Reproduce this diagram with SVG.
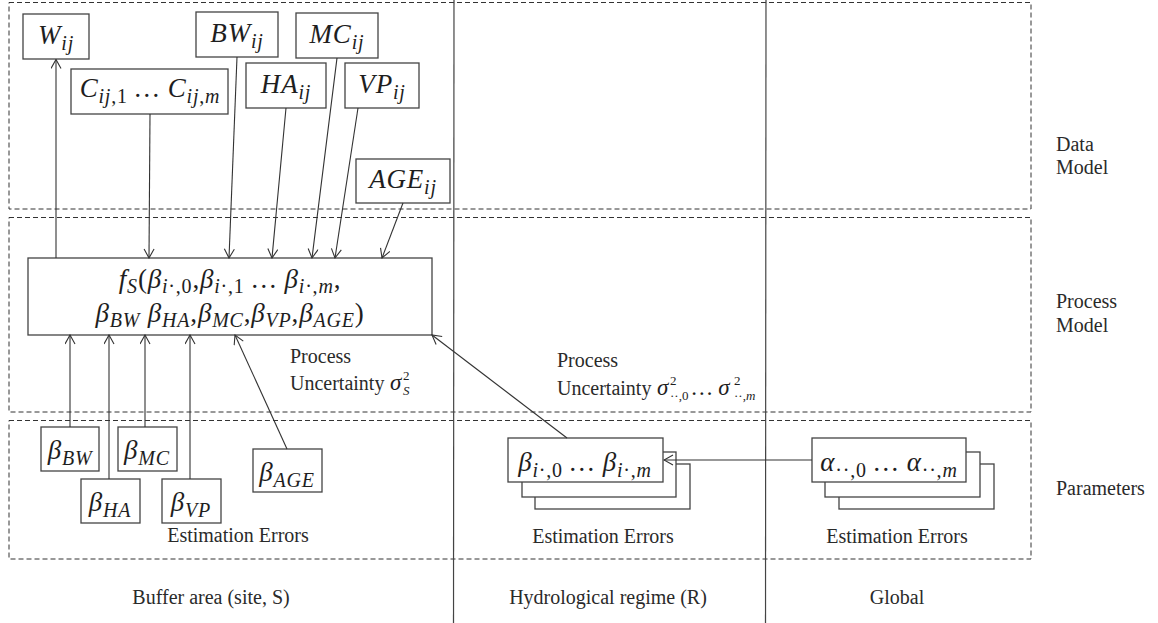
<svg xmlns="http://www.w3.org/2000/svg" width="1158" height="623" viewBox="0 0 1158 623">
  <style>
    .lbl { font-family: "Liberation Serif", "Times New Roman", serif; font-size: 20px; fill: #2a2a2a; }
    .m { font-family: "Liberation Serif", "Times New Roman", serif; font-style: italic; font-size: 27px; fill: #1e1e1e; letter-spacing: 0.8px; }
    .s { font-size: 20px; }
    .u { font-style: normal; }
    .sup { font-family: "Liberation Serif", "Times New Roman", serif; font-size: 13px; fill: #1e1e1e; }
    .sig { font-family: "Liberation Serif", "Times New Roman", serif; font-style: italic; font-size: 23px; fill: #1e1e1e; }
    .zone { fill: none; stroke: #333; stroke-width: 1; stroke-dasharray: 5 3; }
    .col { stroke: #444; stroke-width: 1.2; }
    .box { fill: #fff; stroke: #444; stroke-width: 1.3; }
    .con { fill: none; stroke: #333; stroke-width: 1.1; marker-end: url(#arr); }
  </style>
  <defs>
    <marker id="arr" markerWidth="11" markerHeight="12" refX="10" refY="5.5" orient="auto" markerUnits="userSpaceOnUse">
      <path d="M1,0.5 L10,5.5 L1,10.5" fill="none" stroke="#333" stroke-width="1.1"/>
    </marker>
  </defs>
  <rect width="1158" height="623" fill="#fff"/>

  <!-- model levels -->
  <g id="levels">
    <rect class="zone" x="9" y="2.5" width="1022" height="206.5"/>
    <rect class="zone" x="9" y="217.5" width="1022" height="194.5"/>
    <rect class="zone" x="9" y="420.5" width="1022" height="138.5"/>
  </g>

  <!-- scale columns -->
  <g id="columns">
    <line class="col" x1="454" y1="0" x2="453.5" y2="623"/>
    <line class="col" x1="766" y1="0" x2="765.5" y2="623"/>
  </g>

  <!-- data model -->
  <g id="node-W">
    <rect class="box" x="23" y="14" width="66" height="45"/>
    <text class="m" x="56" y="44" text-anchor="middle">W<tspan class="s" dy="6">ij</tspan></text>
  </g>
  <g id="node-C">
    <rect class="box" x="71" y="69" width="157" height="45"/>
    <text class="m" x="150" y="97" text-anchor="middle">C<tspan class="s" dy="6">ij<tspan class="u">,1</tspan></tspan><tspan dy="-6"> … C</tspan><tspan class="s" dy="6">ij<tspan class="u">,</tspan>m</tspan></text>
  </g>
  <g id="node-BW">
    <rect class="box" x="196" y="12" width="82" height="45"/>
    <text class="m" x="237" y="42" text-anchor="middle">BW<tspan class="s" dy="6">ij</tspan></text>
  </g>
  <g id="node-MC">
    <rect class="box" x="296" y="13" width="82" height="45"/>
    <text class="m" x="337" y="43" text-anchor="middle">MC<tspan class="s" dy="6">ij</tspan></text>
  </g>
  <g id="node-HA">
    <rect class="box" x="246" y="63" width="80" height="45"/>
    <text class="m" x="286" y="93" text-anchor="middle">HA<tspan class="s" dy="6">ij</tspan></text>
  </g>
  <g id="node-VP">
    <rect class="box" x="345" y="63" width="74" height="45"/>
    <text class="m" x="382" y="93" text-anchor="middle">VP<tspan class="s" dy="6">ij</tspan></text>
  </g>
  <g id="node-AGE">
    <rect class="box" x="356" y="159" width="94" height="44"/>
    <text class="m" x="403" y="188" text-anchor="middle">AGE<tspan class="s" dy="6">ij</tspan></text>
  </g>

  <!-- process model -->
  <g id="node-fS">
    <rect class="box" x="28" y="258" width="404" height="77"/>
    <text class="m" x="230" y="288" text-anchor="middle">f<tspan class="s" dy="5">S</tspan><tspan class="u" dy="-5">(</tspan>β<tspan class="s" dy="5">i<tspan class="u">·,0</tspan></tspan><tspan class="u" dy="-5">,</tspan>β<tspan class="s" dy="5">i<tspan class="u">·,1</tspan></tspan><tspan dy="-5"> … β</tspan><tspan class="s" dy="5">i<tspan class="u">·,</tspan>m</tspan><tspan class="u" dy="-5">,</tspan></text>
    <text class="m" x="230" y="322" text-anchor="middle">β<tspan class="s" dy="5">BW</tspan><tspan dy="-5"> β</tspan><tspan class="s" dy="5">HA</tspan><tspan class="u" dy="-5">,</tspan>β<tspan class="s" dy="5">MC</tspan><tspan class="u" dy="-5">,</tspan>β<tspan class="s" dy="5">VP</tspan><tspan class="u" dy="-5">,</tspan>β<tspan class="s" dy="5">AGE</tspan><tspan class="u" dy="-5">)</tspan></text>
  </g>
  <g id="label-uncertainty-S">
    <text class="lbl" x="290" y="363">Process</text>
    <text class="lbl" x="290" y="390">Uncertainty</text>
    <text class="sig" x="390" y="390">σ</text>
    <text class="sup" x="403" y="380">2</text>
    <text class="sup" x="403" y="395" font-style="italic">S</text>
  </g>
  <g id="label-uncertainty-R">
    <text class="lbl" x="557" y="367">Process</text>
    <text class="lbl" x="557" y="395">Uncertainty</text>
    <text class="sig" x="657" y="395">σ</text>
    <text class="sup" x="670" y="385">2</text>
    <text class="sup" x="670" y="400">··,0</text>
    <text class="sig" x="692" y="395">… σ</text>
    <text class="sup" x="734" y="385">2</text>
    <text class="sup" x="734" y="400">··,<tspan font-style="italic">m</tspan></text>
  </g>

  <!-- parameters: site level -->
  <g id="node-bBW">
    <rect class="box" x="41" y="427" width="58" height="44"/>
    <text class="m" x="70" y="459" text-anchor="middle">β<tspan class="s" dy="6">BW</tspan></text>
  </g>
  <g id="node-bMC">
    <rect class="box" x="118" y="427" width="59" height="44"/>
    <text class="m" x="147" y="459" text-anchor="middle">β<tspan class="s" dy="6">MC</tspan></text>
  </g>
  <g id="node-bHA">
    <rect class="box" x="81" y="479" width="59" height="44"/>
    <text class="m" x="110" y="511" text-anchor="middle">β<tspan class="s" dy="6">HA</tspan></text>
  </g>
  <g id="node-bVP">
    <rect class="box" x="162" y="479" width="59" height="44"/>
    <text class="m" x="191" y="511" text-anchor="middle">β<tspan class="s" dy="6">VP</tspan></text>
  </g>
  <g id="node-bAGE">
    <rect class="box" x="253" y="449" width="69" height="43"/>
    <text class="m" x="287" y="481" text-anchor="middle">β<tspan class="s" dy="6">AGE</tspan></text>
  </g>

  <!-- parameters: regime level (stacked) -->
  <g id="node-beta-R">
    <rect class="box" x="535" y="464" width="155" height="45"/>
    <rect class="box" x="522" y="452" width="154" height="45"/>
    <rect class="box" x="508" y="438" width="155" height="44"/>
    <text class="m" x="585" y="471" text-anchor="middle">β<tspan class="s" dy="6">i<tspan class="u">·,0</tspan></tspan><tspan dy="-6">  … β</tspan><tspan class="s" dy="6">i<tspan class="u">·,</tspan>m</tspan></text>
  </g>

  <!-- parameters: global level (stacked) -->
  <g id="node-alpha">
    <rect class="box" x="839" y="464" width="155" height="45"/>
    <rect class="box" x="825" y="452" width="155" height="45"/>
    <rect class="box" x="812" y="438" width="154" height="44"/>
    <text class="m" x="889" y="471" text-anchor="middle">α<tspan class="s u" dy="6">··,0</tspan><tspan dy="-6">  … α</tspan><tspan class="s" dy="6"><tspan class="u">··,</tspan>m</tspan></text>
  </g>

  <!-- captions -->
  <g id="captions">
    <text class="lbl" x="238" y="542" text-anchor="middle">Estimation Errors</text>
    <text class="lbl" x="603" y="543" text-anchor="middle">Estimation Errors</text>
    <text class="lbl" x="897" y="543" text-anchor="middle">Estimation Errors</text>
    <text class="lbl" x="211" y="604" text-anchor="middle">Buffer area (site, S)</text>
    <text class="lbl" x="608" y="604" text-anchor="middle">Hydrological regime (R)</text>
    <text class="lbl" x="897" y="604" text-anchor="middle">Global</text>
    <text class="lbl" x="1056" y="151">Data</text>
    <text class="lbl" x="1056" y="174">Model</text>
    <text class="lbl" x="1056" y="308">Process</text>
    <text class="lbl" x="1056" y="332">Model</text>
    <text class="lbl" x="1056" y="495">Parameters</text>
  </g>

  <!-- connectors -->
  <g id="connectors">
    <line class="con" x1="56" y1="258" x2="56" y2="59.5"/>
    <line class="con" x1="150" y1="114" x2="149" y2="258"/>
    <line class="con" x1="237" y1="57" x2="229" y2="258"/>
    <line class="con" x1="286" y1="108" x2="272" y2="258"/>
    <line class="con" x1="337" y1="58" x2="312" y2="258"/>
    <line class="con" x1="358" y1="108" x2="335" y2="258"/>
    <line class="con" x1="403" y1="203" x2="382" y2="258"/>
    <line class="con" x1="70" y1="427" x2="70" y2="335"/>
    <line class="con" x1="109" y1="479" x2="109" y2="335"/>
    <line class="con" x1="145" y1="427" x2="145" y2="335"/>
    <line class="con" x1="190" y1="479" x2="190" y2="335"/>
    <line class="con" x1="287" y1="449" x2="235" y2="335"/>
    <line class="con" x1="567" y1="438" x2="432" y2="335"/>
    <line class="con" x1="812" y1="460" x2="664" y2="460"/>
  </g>
</svg>
